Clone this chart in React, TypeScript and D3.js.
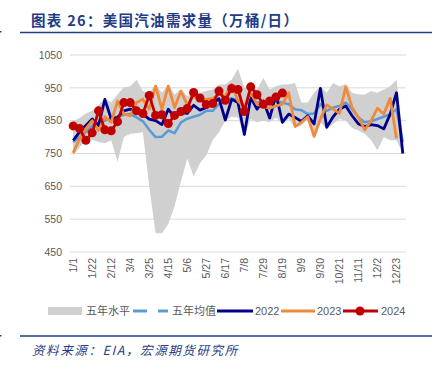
import React from "react";
import * as d3 from "d3";

const categories = [
  "1/1","1/8","1/15","1/22","1/29","2/5","2/12","2/19","2/26","3/4","3/11","3/18","3/25","4/1","4/8","4/15","4/22","4/29",
  "5/6","5/13","5/20","5/27","6/3","6/10","6/17","6/24","7/1","7/8","7/15","7/22","7/29","8/5","8/12","8/19","8/26","9/2",
  "9/9","9/16","9/23","9/30","10/7","10/14","10/21","10/28","11/4","11/11","11/18","11/25","12/2","12/9","12/16","12/23","12/30",
];

const rangeMax = [
  848, 858, 872, 880, 898, 918, 905, 930, 952, 955, 975, 940, 935, 960, 935, 960, 930, 945, 925, 935, 935, 940, 945, 960, 960, 975,
  1008, 950, 955, 945, 980, 945, 955, 960, 960, 965, 905, 905, 935, 955, 935, 965, 955, 962, 935, 930, 930, 940, 935, 945, 955, 975, 805,
];
const rangeMin = [
  745, 768, 790, 792, 785, 781, 790, 725, 800, 810, 812, 815, 650, 507, 507, 535, 590, 665, 735, 680, 720, 745, 790, 815, 850, 862,
  860, 805, 855, 845, 850, 845, 860, 840, 855, 830, 835, 855, 800, 845, 825, 840, 855, 850, 828, 820, 810, 790, 760, 800, 790, 790, 750,
];
const mean5 = [
  785, 800, 815, 835, 845, 850, 858, 862, 868, 870, 860, 848, 822, 800, 801, 820, 812, 845, 856, 862, 868, 880, 880, 900, 915, 918,
  912, 895, 912, 905, 905, 900, 910, 905, 900, 885, 882, 870, 872, 900, 880, 890, 895, 905, 885, 860, 845, 848, 855, 862, 870, 885, 785,
];
const y2022 = [
  790, 815, 835, 855, 835, 915, 855, 860, 880, 885, 880, 870, 855, 850, 838, 885, 860, 875, 872, 897, 882, 890, 902, 917, 852, 915,
  905, 808, 920, 885, 910, 858, 930, 845, 870, 860, 848, 865, 840, 948, 830, 862, 885, 895, 865, 840, 832, 838, 835, 825, 870, 935, 750,
];
const y2023 = [
  752, 795, 826, 850, 820, 862, 845, 910, 870, 865, 905, 915, 885, 955, 885, 955, 890, 940, 898, 925, 912, 915, 918, 930, 925, 960,
  910, 890, 935, 900, 893, 888, 895, 900, 935, 832, 845, 862, 802, 855, 898, 885, 872, 953, 890, 860, 822, 850, 888, 870, 918, 796,
];
const y2024 = [
  834, 826, 790, 813, 880, 822, 819, 847, 905, 905, 880, 872, 927, 866, 868, 841, 866, 878, 887, 936, 919, 899, 902, 940, 912, 948,
  945, 878, 953, 929, 900, 910, 922, 934,
];
const yTicks = [450, 550, 650, 750, 850, 950, 1050];
const xTickLabels = categories.filter((_, i) => i % 3 === 0);

const C_GRAY = "#d0d0d0";
const C_MEAN = "#5b9bd5";
const C_2022 = "#00008b";
const C_2023 = "#f0893a";
const C_2024 = "#c00000";
const TXT = "#595959";
const BLUE = "#1f3c88";

export default function App() {
  const x = d3.scaleBand<string>().domain(categories).range([70, 406]);
  const cx = (i: number) => (x(categories[i]) as number) + x.bandwidth() / 2;
  const y = d3.scaleLinear().domain([450, 1050]).range([252, 55]);

  const area = d3
    .area<number>()
    .x((_, i) => cx(i))
    .y0((_, i) => y(rangeMin[i]))
    .y1((_, i) => y(rangeMax[i]));
  const line = d3
    .line<number>()
    .x((_, i) => cx(i))
    .y((d) => y(d));

  const font = "'Liberation Sans', Arial, sans-serif";
  const cjk = "'Noto Sans CJK SC', sans-serif";

  return (
    <svg
      width={436}
      height={369}
      style={{ position: "absolute", left: 0, top: 0, background: "#fff" }}
    >
      {/* title */}
      <text x={31} y={26} fontFamily={cjk} fontWeight="bold" fontSize={14.5} fill={BLUE} letterSpacing={1.3}>
        图表 26：美国汽油需求量（万桶/日）
      </text>
      <line x1={20} x2={432} y1={32.5} y2={32.5} stroke={BLUE} strokeWidth={1.3} />
      <rect x={0} y={31} width={1.5} height={1.5} fill={BLUE} />

      {/* grid */}
      {yTicks.map((t) => (
        <g key={t}>
          <line x1={70} x2={406} y1={y(t)} y2={y(t)} stroke="#d9d9d9" strokeWidth={1} />
          <text x={62} y={y(t)} dy="0.35em" textAnchor="end" fontFamily={font} fontSize={10.5} fill={TXT}>
            {t}
          </text>
        </g>
      ))}

      {/* x labels */}
      {xTickLabels.map((lab) => {
        const i = categories.indexOf(lab);
        return (
          <text
            key={lab}
            transform={`translate(${cx(i)},258) rotate(-90)`}
            dy="0.35em"
            textAnchor="end"
            fontFamily={font}
            fontSize={10.5}
            fill={TXT}
          >
            {lab}
          </text>
        );
      })}

      {/* series */}
      <path d={area(rangeMax) as string} fill={C_GRAY} />
      <path d={line(mean5) as string} fill="none" stroke={C_MEAN} strokeWidth={2.5} strokeLinejoin="round" />
      <path d={line(y2022) as string} fill="none" stroke={C_2022} strokeWidth={2.8} strokeLinejoin="round" />
      <path d={line(y2023) as string} fill="none" stroke={C_2023} strokeWidth={2.8} strokeLinejoin="round" />
      <path d={line(y2024) as string} fill="none" stroke={C_2024} strokeWidth={2.8} strokeLinejoin="round" />
      {y2024.map((v, i) => (
        <circle key={i} cx={cx(i)} cy={y(v)} r={4.5} fill={C_2024} />
      ))}

      {/* legend */}
      <g fontFamily={cjk} fontSize={11} fill={TXT}>
        <rect x={48} y={307} width={34} height={8} fill={C_GRAY} />
        <text x={86} y={311} dy="0.35em">五年水平</text>
        <line x1={133} x2={147} y1={311} y2={311} stroke={C_MEAN} strokeWidth={3} />
        <line x1={158} x2={168} y1={311} y2={311} stroke={C_MEAN} strokeWidth={3} />
        <text x={172} y={311} dy="0.35em">五年均值</text>
        <line x1={217} x2={253} y1={311} y2={311} stroke={C_2022} strokeWidth={3} />
        <text x={255} y={311} dy="0.35em" fontFamily={font}>2022</text>
        <line x1={281} x2={315} y1={311} y2={311} stroke={C_2023} strokeWidth={3} />
        <text x={317} y={311} dy="0.35em" fontFamily={font}>2023</text>
        <line x1={343} x2={378} y1={311} y2={311} stroke={C_2024} strokeWidth={3} />
        <circle cx={360} cy={311} r={4.5} fill={C_2024} />
        <text x={381} y={311} dy="0.35em" fontFamily={font}>2024</text>
      </g>

      {/* footer */}
      <line x1={20} x2={432} y1={336} y2={336} stroke={BLUE} strokeWidth={1.3} />
      <rect x={0} y={335} width={1.5} height={1.5} fill={BLUE} />
      <text x={32} y={355} fontFamily={cjk} fontStyle="italic" fontSize={12.5} fill={BLUE} letterSpacing={1.6}>
        资料来源：EIA，宏源期货研究所
      </text>
    </svg>
  );
}
